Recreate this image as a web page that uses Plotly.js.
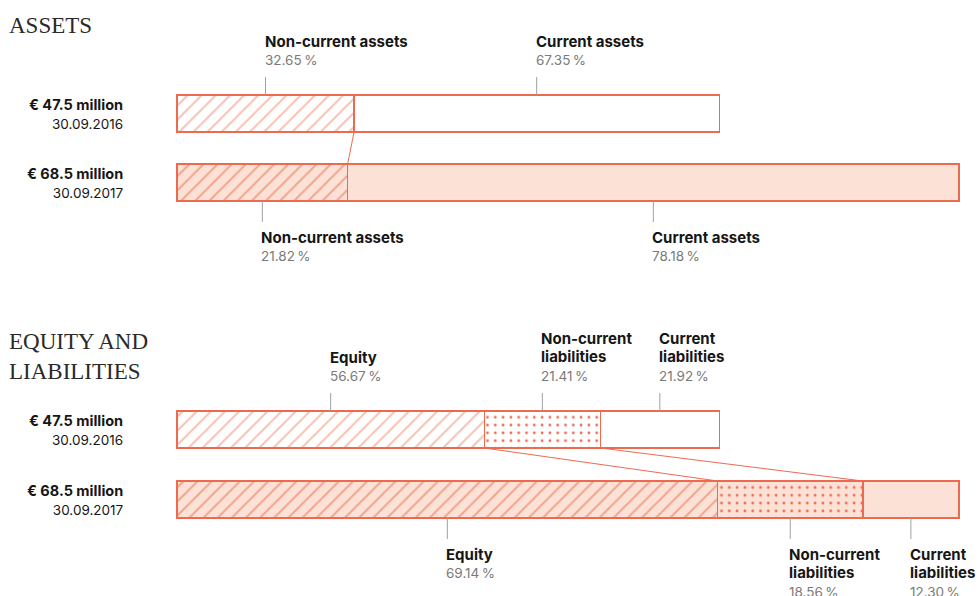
<!DOCTYPE html>
<html>
<head>
<meta charset="utf-8">
<script src="https://cdn.plot.ly/plotly-3.0.1.min.js"></script>
<style>html,body{margin:0;padding:0;background:#fff;}#chart{width:979px;height:596px;}</style>
</head>
<body>
<div id="chart"></div>
<script>
// ---------- data ----------
const categories = ['30.09.2016', '30.09.2017'];
const totals = [47.5, 68.5];               // € million
const totalLabels = ['€ 47.5 million', '€ 68.5 million'];
const nonCurrentAssets = [32.65, 21.82];   // % of total
const currentAssets = [67.35, 78.18];
const equity = [56.67, 69.14];
const nonCurrentLiabilities = [21.41, 18.56];
const currentLiabilities = [21.92, 12.30];

// ---------- layout constants (pixels) ----------
const W = 979, H = 596;
const X0PX = 177, X1PX = 959;
const SCALE = (X1PX - X0PX) / Math.max(...totals);
const xmin = -X0PX / SCALE, xmax = (W - X0PX) / SCALE;
const BAR_H = 37;
const assetsY = [113.5, 182.5];
const eqY = [429.5, 499.5];

const RED = '#ee6a4f';
const FILLS = ['#ffffff', '#fce1d7'];
const HATCH = ['#f9c1b0', '#f3a48c'];
const DOT = '#f06a50';
const FONT = 'Inter, "Noto Sans", sans-serif';

const abs = (tot, pct) => tot.map((t, i) => t * pct[i] / 100);

const traces = [];
function addBars(name, ys, pct, kind) {
  const a = abs(totals, pct);
  [0, 1].forEach(i => {
    const m = {color: FILLS[i], line: {color: RED, width: 1.5}};
    if (kind === 'hatch') m.pattern = {shape: '/', fgcolor: HATCH[i], bgcolor: FILLS[i], size: 10, solidity: 0.2, fillmode: 'replace'};
    if (kind === 'dots') m.pattern = {shape: '.', fgcolor: DOT, bgcolor: FILLS[i], size: 7.8, solidity: 0.1, fillmode: 'replace'};
    traces.push({type: 'bar', orientation: 'h', name: name + ' ' + categories[i],
      y: [ys[i]], x: [a[i]], width: BAR_H, marker: m, hoverinfo: 'skip', showlegend: false});
  });
}
addBars('Non-current assets', assetsY, nonCurrentAssets, 'hatch');
addBars('Current assets', assetsY, currentAssets, null);
addBars('Equity', eqY, equity, 'hatch');
addBars('Non-current liabilities', eqY, nonCurrentLiabilities, 'dots');
addBars('Current liabilities', eqY, currentLiabilities, null);

// connector lines between the two years
function connector(ys, cum) {
  return {type: 'scatter', mode: 'lines', x: cum, y: [ys[0] + BAR_H / 2, ys[1] - BAR_H / 2],
          line: {color: RED, width: 1}, hoverinfo: 'skip', showlegend: false};
}
const nca = abs(totals, nonCurrentAssets);
const eqA = abs(totals, equity);
const nclA = abs(totals, nonCurrentLiabilities);
traces.push(connector(assetsY, nca));
traces.push(connector(eqY, eqA));
traces.push(connector(eqY, [eqA[0] + nclA[0], eqA[1] + nclA[1]]));

// ---------- labels & leaders ----------
const shapes = [];
const annotations = [];
const pctFmt = v => v.toFixed(2) + '\u2009%';

function segmentLabels(ys, names, pcts) {
  let start = [0, 0];
  pcts.forEach((pct, k) => {
    const a = abs(totals, pct);
    [0, 1].forEach(i => {
      const mid = start[i] + a[i] / 2;
      const top = i === 0;
      const edge = top ? ys[i] - BAR_H / 2 : ys[i] + BAR_H / 2;
      const end = top ? edge - 18 : edge + 21;
      shapes.push({type: 'line', xref: 'x', yref: 'y', x0: mid, x1: mid, y0: edge, y1: end,
                   line: {color: '#a0a0a0', width: 1}});
      annotations.push({xref: 'x', yref: 'y', x: mid, y: top ? end - 7 : end + 4,
        xanchor: 'left', yanchor: top ? 'bottom' : 'top', xshift: -3, align: 'left',
        showarrow: false,
        text: '<b style="font-size:15px">' + names[k].replace('<br>', '</b><br><b style="font-size:15px">') +
              '</b><br><span style="color:#7a7a7a;font-size:13.5px">' + pctFmt(pct[i]) + '</span>',
        font: {family: FONT, size: 14.2, color: '#161616'}});
    });
    start = start.map((s, i) => s + a[i]);
  });
}
segmentLabels(assetsY, ['Non-current assets', 'Current assets'], [nonCurrentAssets, currentAssets]);
segmentLabels(eqY, ['Equity', 'Non-current<br>liabilities', 'Current<br>liabilities'],
              [equity, nonCurrentLiabilities, currentLiabilities]);

[assetsY, eqY].forEach(ys => ys.forEach((y, i) => {
  annotations.push({xref: 'paper', yref: 'y', x: 123 / W, y: y, xanchor: 'right', yanchor: 'middle',
    align: 'right', showarrow: false, xshift: 2,
    text: '<b>' + totalLabels[i] + '</b><br><span style="font-size:13.5px">' + categories[i] + '</span>',
    font: {family: FONT, size: 14.5, color: '#161616'}});
}));

const titleFont = {family: '"Liberation Serif", "DejaVu Serif", serif', size: 23, color: '#2a2a2a'};
annotations.push({xref: 'paper', yref: 'y', x: 9 / W, y: 25, xanchor: 'left', yanchor: 'middle',
  align: 'left', showarrow: false, xshift: -2, text: 'ASSETS', font: titleFont});
annotations.push({xref: 'paper', yref: 'y', x: 9 / W, y: 356, xanchor: 'left', yanchor: 'middle',
  align: 'left', showarrow: false, xshift: -2, text: 'EQUITY AND<br>LIABILITIES', font: titleFont});

const layout = {
  width: W, height: H, autosize: false,
  margin: {l: 0, r: 0, t: 0, b: 0, pad: 0},
  paper_bgcolor: '#ffffff', plot_bgcolor: '#ffffff',
  barmode: 'stack', bargap: 0,
  xaxis: {range: [xmin, xmax], visible: false, fixedrange: true},
  yaxis: {range: [H, 0], visible: false, fixedrange: true},
  shapes, annotations, showlegend: false
};
Plotly.newPlot('chart', traces, layout, {displayModeBar: false, staticPlot: true});
</script>
</body>
</html>
